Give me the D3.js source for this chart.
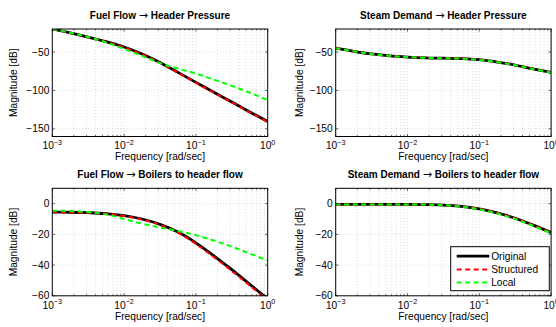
<!DOCTYPE html>
<html>
<head>
<meta charset="utf-8">
<script src="https://cdn.jsdelivr.net/npm/d3@7"></script>
<style>
  body { margin: 0; background: #fff; }
  svg { font-family: "Liberation Sans", Arial, sans-serif; }
  .title { font-size: 10px; font-weight: bold; }
  .arrow { font-family: "DejaVu Sans", sans-serif; font-weight: normal; font-size: 11px; }
  .tick-label { font-size: 10.2px; }
  .axis-label { font-size: 10.2px; }
</style>
</head>
<body>
<div id="chart"></div>
<script>
// Data: log10 of frequency [rad/sec] and magnitude [dB]
var logFreq = [-3, -2.75, -2.5, -2.25, -2, -1.75, -1.5, -1.25, -1, -0.75, -0.5, -0.25, 0];

var titlesFrom = ["Fuel Flow", "Steam Demand", "Fuel Flow", "Steam Demand"];
var titlesTo = ["Header Pressure", "Header Pressure", "Boilers to header flow", "Boilers to header flow"];
var seriesNames = ["Original", "Structured", "Local"];

// panel 1: Fuel Flow -> Header Pressure
var ffHpOriginal   = [-20, -25, -30.5, -36.5, -43.5, -52.5, -63.5, -76.5, -89.5, -102.5, -115, -128, -140.5];
var ffHpStructured = [-20, -25.1, -30.7, -36.8, -44, -53, -64, -77, -90, -103, -115.5, -128.5, -141];
var ffHpLocal      = [-20, -24.8, -30.5, -37.5, -46, -55, -64.5, -71.5, -78, -86, -94, -103, -112.5];

// panel 2: Steam Demand -> Header Pressure
var sdHpOriginal   = [-45, -49, -52.5, -55, -56.5, -57.5, -58, -58.5, -60, -63, -67, -72, -76.6];
var sdHpStructured = [-45, -49, -52.5, -55, -56.5, -57.5, -58, -58.5, -60, -63, -67, -72, -76.6];
var sdHpLocal      = [-45, -49, -52.5, -55, -56.6, -57.6, -58.1, -58.7, -60.2, -63.2, -67.2, -72.2, -76.8];

// panel 3: Fuel Flow -> Boilers to header flow
var ffBhOriginal   = [-5.5, -5.6, -5.9, -6.5, -7.8, -10, -13.5, -18.5, -25.5, -34, -43, -52.5, -62];
var ffBhStructured = [-5.6, -5.7, -6, -6.6, -8, -10.3, -13.8, -18.9, -26.2, -34.8, -43.8, -53.3, -63];
var ffBhLocal      = [-4.5, -4.8, -5.5, -7, -10, -13, -15.5, -17.8, -20.5, -24, -28, -32.5, -37];

// panel 4: Steam Demand -> Boilers to header flow
var sdBhOriginal   = [-0.5, -0.5, -0.5, -0.5, -0.5, -0.6, -0.9, -1.8, -3.4, -6, -9.5, -14, -18.8];
var sdBhStructured = [-0.5, -0.5, -0.5, -0.5, -0.5, -0.6, -0.9, -1.8, -3.4, -6, -9.6, -14.1, -18.9];
var sdBhLocal      = [-0.5, -0.5, -0.5, -0.5, -0.5, -0.6, -1, -2, -3.7, -6.4, -10, -14.5, -19.3];

var yTicksTop = [-150, -100, -50];
var yTicksBottom = [-60, -40, -20, 0];
var xTickExps = [-3, -2, -1, 0];

// Set up the layout
//==============================================================
var svgWidth = 556;
var svgHeight = 327;

var panels = [
    { x: 52.3, y: 29, yDomain: [-160, -20], yTicks: yTicksTop,
      series: [ffHpOriginal, ffHpStructured, ffHpLocal] },
    { x: 335.7, y: 29, yDomain: [-160, -20], yTicks: yTicksTop,
      series: [sdHpOriginal, sdHpStructured, sdHpLocal] },
    { x: 52.3, y: 188.3, yDomain: [-60, 10], yTicks: yTicksBottom,
      series: [ffBhOriginal, ffBhStructured, ffBhLocal] },
    { x: 335.7, y: 188.3, yDomain: [-60, 10], yTicks: yTicksBottom,
      series: [sdBhOriginal, sdBhStructured, sdBhLocal] }
];
var plotW = 215.4;
var plotH = 107.5;

var styles = [
    { color: "#000000", width: 2.8, dash: null },
    { color: "#ff0000", width: 2, dash: "5,3.5" },
    { color: "#00ff00", width: 2, dash: "5,3.5" }
];

var svg = d3.select("#chart")
    .append("svg")
    .attr("width", svgWidth)
    .attr("height", svgHeight);

var minorTicks = [];
for (var e = -3; e < 0; e++) {
    for (var m = 2; m <= 9; m++) minorTicks.push(m * Math.pow(10, e));
}

panels.forEach(function(p, i) {
    var g = svg.append("g").attr("transform", `translate(${p.x}, ${p.y})`);

    var xScale = d3.scaleLog().domain([1e-3, 1]).range([0, plotW]);
    var yScale = d3.scaleLinear().domain(p.yDomain).range([plotH, 0]);

    g.append("rect")
        .attr("width", plotW).attr("height", plotH)
        .attr("fill", "#fff");

    // dotted grid
    g.selectAll(".vgrid")
        .data(minorTicks.concat([1e-2, 1e-1]))
        .enter().append("line")
        .attr("x1", d => xScale(d)).attr("x2", d => xScale(d))
        .attr("y1", 0).attr("y2", plotH)
        .attr("stroke", "#bbb").attr("stroke-width", 0.6)
        .attr("stroke-dasharray", "0.8,2.2");
    g.selectAll(".hgrid")
        .data(p.yTicks.filter(t => t > p.yDomain[0]))
        .enter().append("line")
        .attr("x1", 0).attr("x2", plotW)
        .attr("y1", d => yScale(d)).attr("y2", d => yScale(d))
        .attr("stroke", "#bbb").attr("stroke-width", 0.6)
        .attr("stroke-dasharray", "0.8,2.2");

    // curves
    var clipId = "clip" + i;
    g.append("clipPath").attr("id", clipId)
        .append("rect").attr("width", plotW).attr("height", plotH);

    var line = d3.line()
        .x((d, j) => xScale(Math.pow(10, logFreq[j])))
        .y(d => yScale(d))
        .curve(d3.curveCatmullRom);

    p.series.forEach(function(values, s) {
        g.append("path")
            .datum(values)
            .attr("clip-path", `url(#${clipId})`)
            .attr("d", line)
            .attr("fill", "none")
            .attr("stroke", styles[s].color)
            .attr("stroke-width", styles[s].width)
            .attr("stroke-dasharray", styles[s].dash);
    });

    // tick marks inside, on all four sides
    var ticks = g.append("g").attr("stroke", "#000").attr("stroke-width", 0.6);
    xTickExps.forEach(function(ex) {
        var x = xScale(Math.pow(10, ex));
        ticks.append("line").attr("x1", x).attr("x2", x).attr("y1", plotH).attr("y2", plotH - 2.6);
        ticks.append("line").attr("x1", x).attr("x2", x).attr("y1", 0).attr("y2", 2.6);
    });
    minorTicks.forEach(function(t) {
        var x = xScale(t);
        ticks.append("line").attr("x1", x).attr("x2", x).attr("y1", plotH).attr("y2", plotH - 1.5);
        ticks.append("line").attr("x1", x).attr("x2", x).attr("y1", 0).attr("y2", 1.5);
    });
    p.yTicks.forEach(function(t) {
        var y = yScale(t);
        ticks.append("line").attr("x1", 0).attr("x2", 2.6).attr("y1", y).attr("y2", y);
        ticks.append("line").attr("x1", plotW).attr("x2", plotW - 2.6).attr("y1", y).attr("y2", y);
    });

    g.append("rect")
        .attr("width", plotW).attr("height", plotH)
        .attr("fill", "none").attr("stroke", "#000").attr("stroke-width", 1);

    // tick labels
    xTickExps.forEach(function(ex) {
        var t = g.append("text")
            .attr("class", "tick-label")
            .attr("x", xScale(Math.pow(10, ex)))
            .attr("y", plotH + 12.8)
            .attr("text-anchor", "middle");
        t.append("tspan").text("10");
        t.append("tspan").attr("dy", -4.5).style("font-size", "7.2px")
            .text(ex === 0 ? "0" : "\u2212" + (-ex));
    });
    g.selectAll(".ylab")
        .data(p.yTicks)
        .enter().append("text")
        .attr("class", "tick-label")
        .attr("x", -3)
        .attr("y", d => yScale(d) + 3.6)
        .attr("text-anchor", "end")
        .text(d => d < 0 ? "\u2212" + (-d) : d);

    // titles and axis labels
    var title = g.append("text")
        .attr("class", "title")
        .attr("x", plotW / 2)
        .attr("y", -10.5)
        .attr("text-anchor", "middle");
    title.append("tspan").text(titlesFrom[i] + " ");
    title.append("tspan").attr("class", "arrow").text("\u2192");
    title.append("tspan").text(" " + titlesTo[i]);

    g.append("text")
        .attr("class", "axis-label")
        .attr("x", plotW / 2)
        .attr("y", plotH + 23.8)
        .attr("text-anchor", "middle")
        .text("Frequency [rad/sec]");

    g.append("text")
        .attr("class", "axis-label")
        .attr("transform", `translate(${i % 2 === 0 ? -35.5 : -33}, ${plotH / 2}) rotate(-90)`)
        .attr("text-anchor", "middle")
        .text("Magnitude [dB]");
});

// Legend in the last panel
//==============================================================
var legend = svg.append("g").attr("transform", "translate(450.7, 246.7)");
legend.append("rect")
    .attr("width", 98.6).attr("height", 44)
    .attr("fill", "#fff").attr("stroke", "#000").attr("stroke-width", 1);

seriesNames.forEach(function(name, s) {
    var y = 9.5 + s * 13.2;
    legend.append("line")
        .attr("x1", 6).attr("x2", 38.6)
        .attr("y1", y).attr("y2", y)
        .attr("stroke", styles[s].color)
        .attr("stroke-width", styles[s].width)
        .attr("stroke-dasharray", styles[s].dash);
    legend.append("text")
        .attr("class", "axis-label")
        .attr("x", 40.5)
        .attr("y", y + 3.5)
        .text(name);
});
</script>
</body>
</html>
